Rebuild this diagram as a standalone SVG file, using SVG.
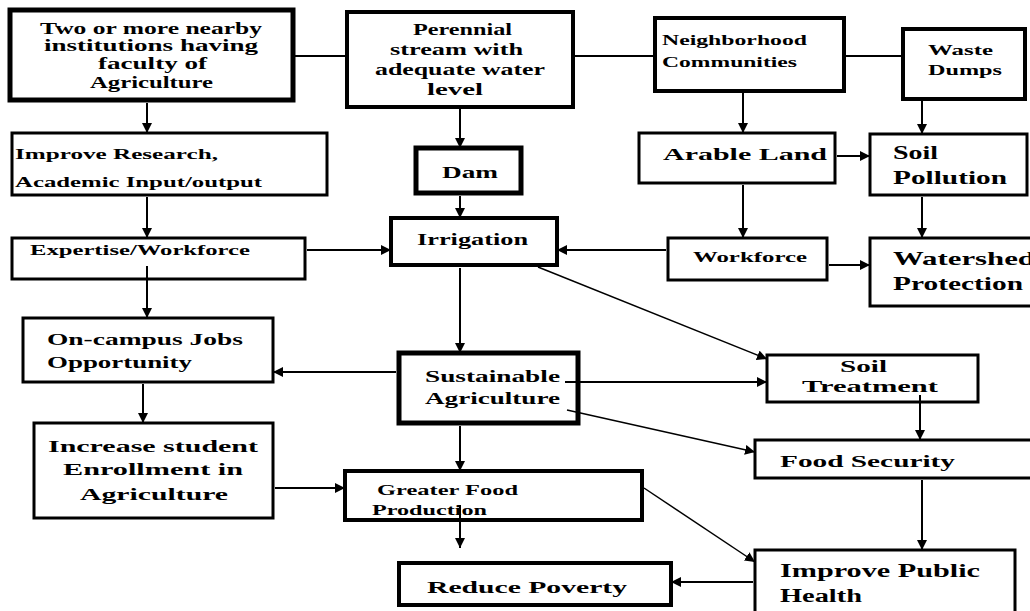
<svg xmlns="http://www.w3.org/2000/svg" width="1030" height="611" viewBox="0 0 1030 611">
<defs>
<marker id="ah" markerUnits="userSpaceOnUse" markerWidth="11" markerHeight="11" refX="10" refY="5" orient="auto">
<path d="M0,0 L10,5 L0,10 z" fill="#000"/>
</marker>
<style>
.b{fill:#fff;stroke:#000}
.t{font-family:"Liberation Serif","Times New Roman",serif;font-weight:bold;fill:#000}
.c line{stroke:#000;stroke-width:2}
.c .a{marker-end:url(#ah)}
.c .d{stroke-width:1.5}
</style>
</defs>
<rect width="1030" height="611" fill="#fff"/>
<g id="n1"><rect class="b" x="10" y="10" width="283" height="90" stroke-width="5"/>
<text class="t" font-size="16"><tspan x="40" y="34" textLength="222" lengthAdjust="spacingAndGlyphs">Two or more nearby</tspan><tspan x="44" y="51" textLength="214" lengthAdjust="spacingAndGlyphs">institutions having</tspan><tspan x="98" y="69" textLength="109" lengthAdjust="spacingAndGlyphs">faculty of</tspan><tspan x="90" y="88" textLength="123" lengthAdjust="spacingAndGlyphs">Agriculture</tspan></text></g>
<g id="n2"><rect class="b" x="347" y="12" width="226" height="95" stroke-width="4"/>
<text class="t" font-size="16"><tspan x="413" y="35" textLength="99" lengthAdjust="spacingAndGlyphs">Perennial</tspan><tspan x="390" y="55" textLength="133" lengthAdjust="spacingAndGlyphs">stream with</tspan><tspan x="375" y="75" textLength="170" lengthAdjust="spacingAndGlyphs">adequate water</tspan><tspan x="427" y="95" textLength="56" lengthAdjust="spacingAndGlyphs">level</tspan></text></g>
<g id="n3"><rect class="b" x="655" y="18" width="189" height="73" stroke-width="4"/>
<text class="t" font-size="15"><tspan x="662" y="45" textLength="145" lengthAdjust="spacingAndGlyphs">Neighborhood</tspan><tspan x="662" y="67" textLength="135" lengthAdjust="spacingAndGlyphs">Communities</tspan></text></g>
<g id="n4"><rect class="b" x="903" y="29" width="122" height="70" stroke-width="4"/>
<text class="t" font-size="15"><tspan x="928" y="55" textLength="65" lengthAdjust="spacingAndGlyphs">Waste</tspan><tspan x="928" y="75" textLength="74" lengthAdjust="spacingAndGlyphs">Dumps</tspan></text></g>
<g id="n5"><rect class="b" x="12" y="133" width="315" height="62" stroke-width="3"/>
<text class="t" font-size="15"><tspan x="15" y="159" textLength="203" lengthAdjust="spacingAndGlyphs">Improve Research,</tspan><tspan x="15" y="187" textLength="247" lengthAdjust="spacingAndGlyphs">Academic Input/output</tspan></text></g>
<g id="n6"><rect class="b" x="416" y="148" width="105" height="45" stroke-width="5"/>
<text class="t" font-size="17" x="442" y="178" textLength="56" lengthAdjust="spacingAndGlyphs">Dam</text></g>
<g id="n7"><rect class="b" x="639" y="133" width="196" height="50" stroke-width="3"/>
<text class="t" font-size="17" x="663" y="160" textLength="164" lengthAdjust="spacingAndGlyphs">Arable Land</text></g>
<g id="n8"><rect class="b" x="870" y="134" width="157" height="61" stroke-width="3"/>
<text class="t" font-size="19"><tspan x="893" y="159" textLength="45" lengthAdjust="spacingAndGlyphs">Soil</tspan><tspan x="893" y="184" textLength="114" lengthAdjust="spacingAndGlyphs">Pollution</tspan></text></g>
<g id="n9"><rect class="b" x="12" y="238" width="293" height="41" stroke-width="3"/>
<text class="t" font-size="15" x="30" y="255" textLength="220" lengthAdjust="spacingAndGlyphs">Expertise/Workforce</text></g>
<g id="n10"><rect class="b" x="391" y="218" width="166" height="47" stroke-width="4"/>
<text class="t" font-size="16" x="417" y="245" textLength="111" lengthAdjust="spacingAndGlyphs">Irrigation</text></g>
<g id="n11"><rect class="b" x="668" y="238" width="159" height="42" stroke-width="3"/>
<text class="t" font-size="15" x="693" y="262" textLength="114" lengthAdjust="spacingAndGlyphs">Workforce</text></g>
<g id="n12"><rect class="b" x="870" y="238" width="175" height="68" stroke-width="3"/>
<text class="t" font-size="19"><tspan x="893" y="265" textLength="142" lengthAdjust="spacingAndGlyphs">Watershed</tspan><tspan x="893" y="290" textLength="130" lengthAdjust="spacingAndGlyphs">Protection</tspan></text></g>
<g id="n13"><rect class="b" x="23" y="318" width="250" height="64" stroke-width="3"/>
<text class="t" font-size="17"><tspan x="47" y="345" textLength="196" lengthAdjust="spacingAndGlyphs">On-campus Jobs</tspan><tspan x="47" y="368" textLength="145" lengthAdjust="spacingAndGlyphs">Opportunity</tspan></text></g>
<g id="n14"><rect class="b" x="399" y="353" width="179" height="70" stroke-width="5"/>
<text class="t" font-size="17"><tspan x="425" y="382" textLength="135" lengthAdjust="spacingAndGlyphs">Sustainable</tspan><tspan x="425" y="404" textLength="135" lengthAdjust="spacingAndGlyphs">Agriculture</tspan></text></g>
<g id="n15"><rect class="b" x="767" y="355" width="211" height="47" stroke-width="3"/>
<text class="t" font-size="17"><tspan x="840" y="372" textLength="47" lengthAdjust="spacingAndGlyphs">Soil</tspan><tspan x="802" y="392" textLength="136" lengthAdjust="spacingAndGlyphs">Treatment</tspan></text></g>
<g id="n16"><rect class="b" x="34" y="423" width="239" height="95" stroke-width="3"/>
<text class="t" font-size="17"><tspan x="48" y="452" textLength="210" lengthAdjust="spacingAndGlyphs">Increase student</tspan><tspan x="63" y="475" textLength="180" lengthAdjust="spacingAndGlyphs">Enrollment in</tspan><tspan x="80" y="500" textLength="148" lengthAdjust="spacingAndGlyphs">Agriculture</tspan></text></g>
<g id="n17"><rect class="b" x="755" y="440" width="290" height="38" stroke-width="3"/>
<text class="t" font-size="17" x="780" y="467" textLength="175" lengthAdjust="spacingAndGlyphs">Food Security</text></g>
<g id="n18"><rect class="b" x="345" y="471" width="297" height="49" stroke-width="4"/>
<text class="t" font-size="15"><tspan x="377" y="495" textLength="141" lengthAdjust="spacingAndGlyphs">Greater Food</tspan><tspan x="372" y="515" textLength="115" lengthAdjust="spacingAndGlyphs">Production</tspan></text></g>
<g id="n19"><rect class="b" x="399" y="563" width="272" height="42" stroke-width="4"/>
<text class="t" font-size="17" x="427" y="593" textLength="200" lengthAdjust="spacingAndGlyphs">Reduce Poverty</text></g>
<g id="n20"><rect class="b" x="755" y="550" width="260" height="70" stroke-width="3"/>
<text class="t" font-size="18"><tspan x="780" y="577" textLength="200" lengthAdjust="spacingAndGlyphs">Improve Public</tspan><tspan x="780" y="602" textLength="82" lengthAdjust="spacingAndGlyphs">Health</tspan></text></g>
<g class="c" id="connectors">
<line x1="295" y1="56" x2="345" y2="56"/>
<line x1="575" y1="56" x2="653" y2="56"/>
<line x1="846" y1="56" x2="901" y2="56"/>
<line class="a" x1="147" y1="103" x2="147" y2="133"/>
<line class="a" x1="460" y1="109" x2="460" y2="148"/>
<line class="a" x1="743" y1="93" x2="743" y2="133"/>
<line class="a" x1="922" y1="101" x2="922" y2="134"/>
<line class="a" x1="837" y1="156" x2="870" y2="156"/>
<line class="a" x1="147" y1="197" x2="147" y2="238"/>
<line class="a" x1="460" y1="196" x2="460" y2="218"/>
<line class="a" x1="743" y1="185" x2="743" y2="238"/>
<line class="a" x1="922" y1="197" x2="922" y2="238"/>
<line class="a" x1="307" y1="250" x2="391" y2="250"/>
<line class="a" x1="666" y1="250" x2="557" y2="250"/>
<line class="a" x1="829" y1="265" x2="870" y2="265"/>
<line class="a" x1="147" y1="266" x2="147" y2="318"/>
<line class="a d" x1="538" y1="267" x2="767" y2="359"/>
<line class="a" x1="460" y1="268" x2="460" y2="353"/>
<line class="a" x1="396" y1="372" x2="273" y2="372"/>
<line class="a" x1="565" y1="382" x2="767" y2="382"/>
<line class="a d" x1="567" y1="410" x2="755" y2="452"/>
<line class="a" x1="920" y1="395" x2="920" y2="440"/>
<line class="a" x1="143" y1="384" x2="143" y2="423"/>
<line class="a" x1="275" y1="488" x2="345" y2="488"/>
<line class="a" x1="460" y1="426" x2="460" y2="471"/>
<line class="a" x1="460" y1="505" x2="460" y2="548"/>
<line class="a d" x1="644" y1="488" x2="755" y2="562"/>
<line class="a" x1="922" y1="480" x2="922" y2="550"/>
<line class="a" x1="753" y1="582" x2="671" y2="582"/>
</g>
</svg>
